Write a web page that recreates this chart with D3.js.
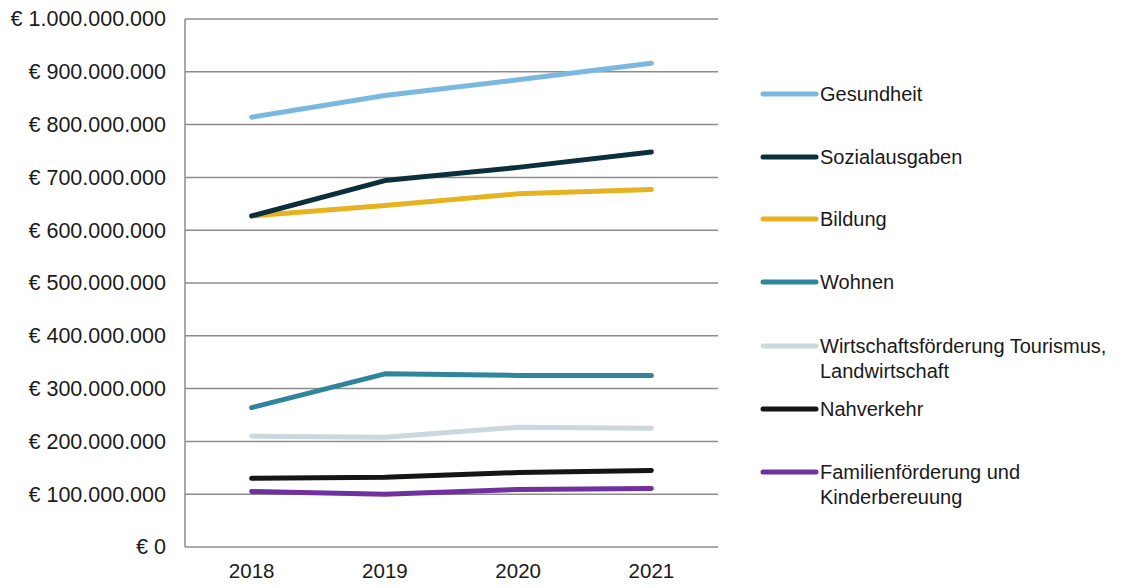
<!DOCTYPE html>
<html>
<head>
<meta charset="utf-8">
<script src="https://cdn.jsdelivr.net/npm/d3@7"></script>
<style>
  body { margin: 0; background: #fff; }
  text { font-family: "Liberation Sans", Arial, sans-serif; fill: #1a1a1a; }
</style>
</head>
<body>
<div class="container"></div>
<script>
const WIDTH = 1139;
const HEIGHT = 588;

var years = ['2018', '2019', '2020', '2021'];
var yTicks = [0, 100e6, 200e6, 300e6, 400e6, 500e6, 600e6, 700e6, 800e6, 900e6, 1000e6];

var seriesNames = [
	['Gesundheit'],
	['Sozialausgaben'],
	['Bildung'],
	['Wohnen'],
	['Wirtschaftsförderung Tourismus,', 'Landwirtschaft'],
	['Nahverkehr'],
	['Familienförderung und', 'Kinderbereuung']
];
var seriesColors = ['#7ab8e1', '#0b2f3b', '#e6b21f', '#2f869c', '#cbd8de', '#151515', '#7030a0'];

var gesundheit = [814e6, 855e6, 885e6, 916e6];
var sozialausgaben = [627e6, 694e6, 719e6, 748e6];
var bildung = [627e6, 647e6, 669e6, 677e6];
var wohnen = [264e6, 328e6, 325e6, 325e6];
var wirtschaft = [210e6, 208e6, 227e6, 225e6];
var nahverkehr = [130e6, 132e6, 141e6, 145e6];
var familien = [105e6, 100e6, 109e6, 111e6];

var seriesValues = [gesundheit, sozialausgaben, bildung, wohnen, wirtschaft, nahverkehr, familien];

var svg = d3.select('.container').append('svg')
	.attr('width', WIDTH)
	.attr('height', HEIGHT);

var xScale = d3.scaleBand()
	.domain(years)
	.range([185, 718]);

var yScale = d3.scaleLinear()
	.domain([0, 1000e6])
	.range([547, 19]);

var fmt = function(v){
	return '€ ' + d3.format(',')(v).replace(/,/g, '.');
};

// gridlines
svg.append('g').selectAll('line').data(yTicks)
	.enter().append('line')
	.attr('x1', 185).attr('x2', 718)
	.attr('y1', function(d){ return yScale(d); })
	.attr('y2', function(d){ return yScale(d); })
	.attr('stroke', '#8c8c8c')
	.attr('stroke-width', 1.5);

svg.append('line')
	.attr('x1', 185).attr('x2', 185)
	.attr('y1', yScale(1000e6)).attr('y2', yScale(0))
	.attr('stroke', '#8c8c8c')
	.attr('stroke-width', 1.5);

// y labels
var yAxis = d3.axisLeft(yScale).tickValues(yTicks).tickFormat(fmt).tickSize(0).tickPadding(19);
var yg = svg.append('g').attr('transform', 'translate(185,0)').call(yAxis);
yg.select('.domain').remove();
yg.selectAll('text').style('font-size', '21.5px').style('font-family', '"Liberation Sans", Arial, sans-serif').attr('fill', '#1a1a1a');

// x labels
var xAxis = d3.axisBottom(xScale).tickSize(0).tickPadding(16);
var xg = svg.append('g').attr('transform', 'translate(0,547)').call(xAxis);
xg.select('.domain').remove();
xg.selectAll('text').style('font-size', '20.5px').style('font-family', '"Liberation Sans", Arial, sans-serif').attr('fill', '#1a1a1a');

var line = d3.line()
	.x(function(d, i){ return xScale(years[i]) + xScale.bandwidth() / 2; })
	.y(function(d){ return yScale(d); });

// draw bottom series first so top ones sit over
var order = d3.range(seriesValues.length).reverse();
svg.append('g').selectAll('path').data(order)
	.enter().append('path')
	.attr('d', function(i){ return line(seriesValues[i]); })
	.attr('fill', 'none')
	.attr('stroke', function(i){ return seriesColors[i]; })
	.attr('stroke-width', 5)
	.attr('stroke-linecap', 'round')
	.attr('stroke-linejoin', 'round');

// legend
var legendY = [94, 157, 219, 282, 346, 409, 472];
var lg = svg.append('g').selectAll('g').data(seriesNames)
	.enter().append('g')
	.attr('transform', function(d, i){ return 'translate(763,' + legendY[i] + ')'; });

lg.append('line')
	.attr('x1', 0).attr('x2', 53)
	.attr('y1', 0).attr('y2', 0)
	.attr('stroke', function(d, i){ return seriesColors[i]; })
	.attr('stroke-width', 5)
	.attr('stroke-linecap', 'round');

lg.each(function(names){
	var t = d3.select(this).append('text')
		.attr('x', 57)
		.attr('y', 0)
		.style('font-size', '20px');
	names.forEach(function(n, k){
		t.append('tspan').attr('x', 57).attr('dy', k === 0 ? '0.35em' : 25).text(n);
	});
});
</script>
</body>
</html>
